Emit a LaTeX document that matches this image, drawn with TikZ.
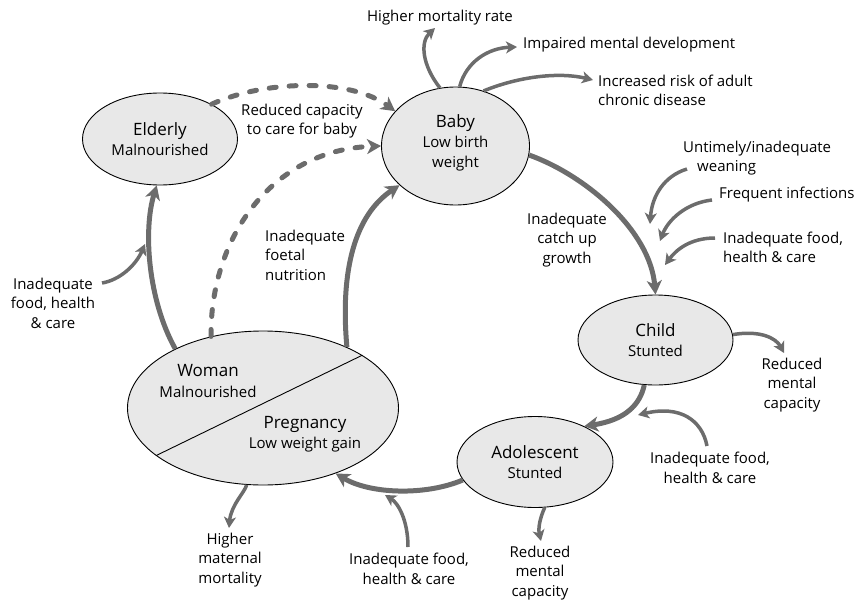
\documentclass[tikz,border=0pt]{standalone}
\usepackage{fontspec}
\setmainfont{Open Sans}
\usetikzlibrary{shapes.geometric,arrows.meta}
\definecolor{arr}{HTML}{6C6C6C}
\definecolor{fillg}{HTML}{E8E8E8}
\begin{document}
\begin{tikzpicture}[x=1pt,y=-1pt,
  stage/.style={ellipse,draw=black,line width=0.9pt,fill=fillg,inner sep=0pt,align=center,
     font=\fontsize{15}{20}\selectfont},
  lbl/.style={font=\fontsize{15}{19.5}\selectfont,align=center,inner sep=0pt},
  ttl/.style={font=\fontsize{17}{20}\selectfont,inner sep=0pt},
  sbt/.style={font=\fontsize{15}{20}\selectfont,inner sep=0pt},
  mainarrow/.style={draw=arr,line width=5pt,-{Stealth[length=14pt,width=15pt,inset=4pt]}},
  sidearrow/.style={draw=arr,line width=3.5pt,-{Stealth[length=11pt,width=12pt,inset=3pt]}},
  dasharrow/.style={draw=arr,line width=5pt,line cap=round,dash pattern=on 7pt off 13pt,
     -{Stealth[length=14pt,width=15pt,inset=4pt]}},
]
\useasboundingbox (0,0) rectangle (854,602);

% stages
\node[stage,minimum width=155pt,minimum height=92pt] (elderly) at (160,139)
  {{\fontsize{17}{20}\selectfont Elderly}\\Malnourished};
\node[stage,minimum width=148pt,minimum height=118pt] (baby) at (455.5,146) {};
\node[stage,fill=none,draw=none] (babyt) at (455.5,143)
  {{\fontsize{17}{20}\selectfont Baby}\\Low birth\\weight};
\node[stage,minimum width=155pt,minimum height=90pt] (child) at (655.5,340)
  {{\fontsize{17}{20}\selectfont Child}\\Stunted};
\node[stage,minimum width=156pt,minimum height=91pt] (adol) at (535,462)
  {{\fontsize{17}{20}\selectfont Adolescent}\\Stunted};
\node[stage,minimum width=271pt,minimum height=154pt] (woman) at (263,408) {};
\draw[line width=0.9pt] (woman.204) -- (woman.28);
\node[ttl] (womant) at (208,371) {Woman};
\node[sbt] (womans) at (208,392) {Malnourished};
\node[ttl] (pregt) at (305,424) {Pregnancy};
\node[sbt] (pregs) at (305,445) {Low weight gain};

% main cycle
\draw[mainarrow] (baby.-7) .. controls (585,175) and (650,230) .. (child.north);
\draw[mainarrow] (child.256) .. controls (640,405) and (625,420) .. (adol.36);
\draw[mainarrow] (adol.194) .. controls (425,496) and (370,494) .. (woman.-42);
\draw[mainarrow] (woman.146) .. controls (148,300) and (143,230) .. (elderly.266);
\draw[mainarrow] (woman.36) .. controls (340,270) and (355,215) .. (baby.215);

% dashed
\draw[dasharrow] (elderly.34) .. controls (265,80) and (350,78) .. (baby.150);
\draw[dasharrow] (woman.126) .. controls (210,240) and (270,150) .. (baby.180);

% labels
\node[lbl] (lcap) at (302,121) {Reduced capacity\\to care for baby};
\node[lbl,align=left,anchor=west] (lfoet) at (265,255) {Inadequate\\foetal\\nutrition};
\node[lbl] (lcatch) at (567,240) {Inadequate\\catch up\\growth};

% top effects
\node[lbl] (hmr) at (440,18) {Higher mortality rate};
\node[lbl,anchor=west] (imd) at (523,45) {Impaired mental development};
\node[lbl,align=left,anchor=west] (irc) at (598,90.5) {Increased risk of adult\\chronic disease};
\coordinate (hmrend) at (435,28);
\coordinate (imdend) at (517,47);
\coordinate (ircend) at (593,80);
\draw[sidearrow] (baby.105) .. controls (422,65) and (420,42) .. (hmrend);
\draw[sidearrow] (baby.86) .. controls (466,62) and (488,48) .. (imdend);
\draw[sidearrow] (baby.63) .. controls (520,76) and (560,72) .. (ircend);

% right influences on child
\node[lbl,align=left,anchor=west] (wean) at (683,158) {Untimely/inadequate\\\hspace*{14pt}weaning};
\node[lbl,anchor=west] (finf) at (719,195) {Frequent infections};
\node[lbl,align=left,anchor=west] (ifc) at (723,247.5) {Inadequate food,\\health \& care};
\coordinate (weans) at (687,169);
\coordinate (weane) at (650,224);
\coordinate (finfs) at (712,200);
\coordinate (finfe) at (660,241);
\coordinate (ifcs) at (715,238);
\coordinate (ifce) at (665,265);
\draw[sidearrow] (weans) .. controls (664,176) and (652,196) .. (weane);
\draw[sidearrow] (finfs) .. controls (686,203) and (668,220) .. (finfe);
\draw[sidearrow] (ifcs) .. controls (690,238) and (676,250) .. (ifce);

% child -> reduced mental capacity
\node[lbl] (rmc1) at (792,385) {Reduced\\mental\\capacity};
\coordinate (rmc1e) at (784,353);
\draw[sidearrow] (child.4) .. controls (760,330) and (776,338) .. (rmc1e);

% adolescent influences
\node[lbl] (ifa) at (710,468) {Inadequate food,\\health \& care};
\coordinate (ifas) at (707,446);
\coordinate (ifae) at (638,415);
\draw[sidearrow] (ifas) .. controls (702,420) and (680,405) .. (ifae);

\node[lbl] (rmc2) at (540,573) {Reduced\\mental\\capacity};
\coordinate (rmc2e) at (541,541);
\draw[sidearrow] (adol.282) .. controls (540,518) and (538,528) .. (rmc2e);

% pregnancy influences
\node[lbl] (ifp) at (409,569) {Inadequate food,\\health \& care};
\coordinate (ifps) at (408,547);
\coordinate (ifpe) at (385,495);
\draw[sidearrow] (ifps) .. controls (408,520) and (398,503) .. (ifpe);

\node[lbl] (hmm) at (230,560) {Higher\\maternal\\mortality};
\coordinate (hmme) at (229,528);
\draw[sidearrow] (woman.258) .. controls (245,492) and (231,505) .. (hmme);

% elderly influences
\node[lbl] (ife) at (53,303) {Inadequate\\food, health\\\& care};
\coordinate (ifes) at (102,283);
\coordinate (ifee) at (145,244);
\draw[sidearrow] (ifes) .. controls (120,280) and (136,265) .. (ifee);
\end{tikzpicture}
\end{document}
